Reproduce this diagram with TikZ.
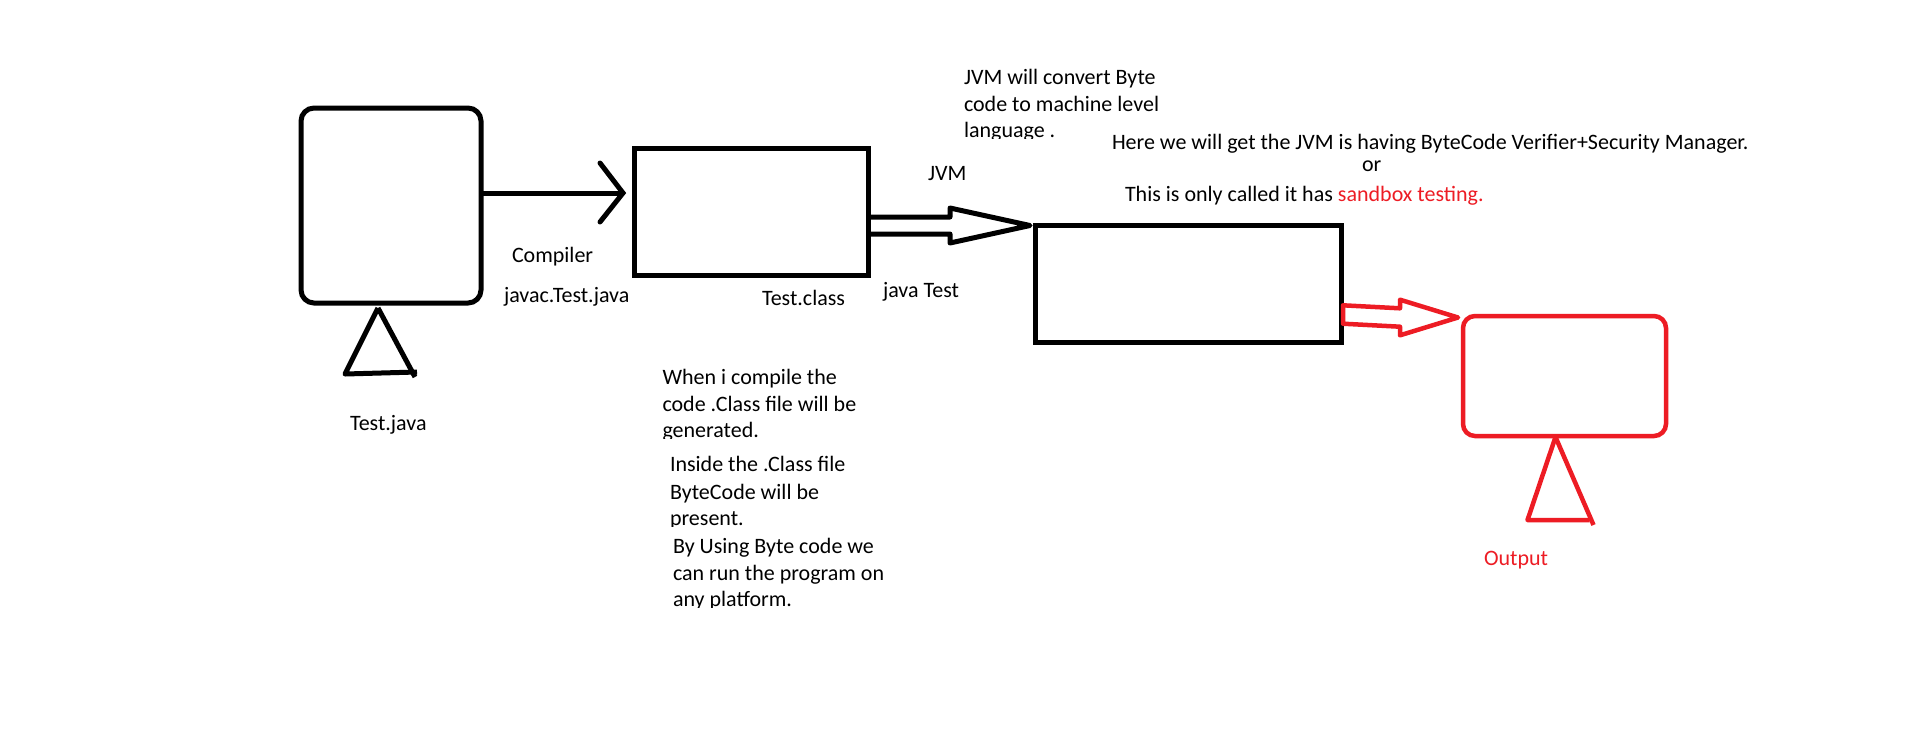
\documentclass[tikz,border=0pt]{standalone}
\usepackage{fontspec}
\setmainfont{Carlito}
\usetikzlibrary{calc}
\definecolor{pred}{RGB}{237,28,36}
\tikzset{
  blk/.style={line width=5pt, draw=black},
  rd/.style={line width=4.5pt, draw=pred},
  sqbox/.style={blk, rectangle, inner sep=0pt, outer sep=0pt},
  rbox/.style={blk, rectangle, rounded corners=13pt, inner sep=0pt, outer sep=0pt},
  lbl/.style={anchor=base west, inner sep=0pt, outer sep=0pt, font=\fontsize{22}{26.8}\selectfont},
}
\begin{document}
\begin{tikzpicture}[x=1pt,y=-1pt]
\fill[white] (0,0) rectangle (1914,740);
\useasboundingbox (0,0) rectangle (1914,740);

% boxes
\node[rbox, minimum width=180pt, minimum height=195pt] (src) at (391,205.5) {};
\node[sqbox, minimum width=234pt, minimum height=127pt] (cls) at (751,212.3) {};
\node[sqbox, minimum width=306pt, minimum height=117pt] (vm) at (1188,283.5) {};
\node[rbox, draw=pred, line width=4.5pt, rounded corners=12pt, minimum width=203pt, minimum height=120pt] (out) at (1564.5,376) {};

% compiler arrow
\draw[blk] ([yshift=12.5pt]src.east) -- ([yshift=19.3pt,xshift=-11pt]cls.west) coordinate (a1tip);
\draw[blk, line cap=round] ($(a1tip)+(-23,-30)$) -- (a1tip) -- ($(a1tip)+(-23,29)$);

% JVM hollow arrow
\coordinate (jt) at ([xshift=-5pt,yshift=-0.5pt]vm.north west);
\draw[blk, line join=round] ([yshift=-4.7pt]cls.east) -- ($(jt)+(-80,-8.5)$) -- ($(jt)+(-80,-17.5)$) -- (jt) -- ($(jt)+(-80,17.5)$) -- ($(jt)+(-80,8.5)$) -- ([yshift=-21.7pt]cls.east);

% red hollow arrow
\coordinate (rt) at ([xshift=-5pt,yshift=-1.5pt]out.north west);
\draw[rd, line join=round] ([xshift=2pt,yshift=-21.8pt]vm.east) -- ($(rt)+(-58,-9.2)$) -- ($(rt)+(-58,-17.8)$) -- (rt) -- ($(rt)+(-58,17.8)$) -- ($(rt)+(-58,9.2)$) -- ([xshift=2pt,yshift=-40.2pt]vm.east) -- cycle;

% stands
\draw[blk, line join=round] ([xshift=-13pt,yshift=-5pt]src.south) -- ++(-33,66) -- ++(72,-2);
\draw[blk] ([xshift=-13pt,yshift=-5pt]src.south) -- ++(37,69);
\draw[rd, line join=round] ([xshift=-9pt,yshift=-1pt]out.south) -- ++(-28,83) -- ++(62,0);
\draw[rd] ([xshift=-9pt,yshift=-1pt]out.south) -- ++(38,88);

% labels
\node[lbl] (tjava) at (350,430) {Test.java};
\node[lbl] (tcomp) at (512,262) {Compiler};
\node[lbl] (tjavac) at (504,302.7) {javac.Test.java};
\node[lbl] (tclass) at (762,305) {Test.class};
\node[lbl] (tjvm) at (928,180) {JVM};
\node[lbl] (tjt) at (883,297.7) {java Test};
\node[lbl, text=pred] (tout) at (1484,565.7) {Output};

% top notes
\node[lbl] (n1a) at (964,84.3) {JVM will convert Byte};
\node[lbl] (n1b) at (964,111.7) {code to machine level};
\begin{scope}
\clip (950,115) rectangle (1100,138.5);
\node[lbl] (n1c) at (964,137.3) {language .};
\end{scope}
\node[lbl] (h1) at (1112,149.3) {Here we will get the JVM is having ByteCode Verifier+Security Manager.};
\node[lbl] (h2) at (1362,171) {or};
\node[lbl] (h3) at (1125,201.7) {This is only called it has \textcolor{pred}{sandbox testing.}};

% bottom notes
\node[lbl] (p1a) at (662.5,384) {When i compile the};
\node[lbl] (p1b) at (662.5,411.7) {code .Class file will be};
\begin{scope}
\clip (650,415) rectangle (900,438.2);
\node[lbl] (p1c) at (662.5,437) {generated.};
\end{scope}
\node[lbl] (p2a) at (670,471.7) {Inside the .Class file};
\node[lbl] (p2b) at (670,499) {ByteCode will be};
\begin{scope}
\clip (650,503) rectangle (900,526.9);
\node[lbl] (p2c) at (670,525.7) {present.};
\end{scope}
\node[lbl] (p3a) at (673,553.3) {By Using Byte code we};
\node[lbl] (p3b) at (673,580) {can run the program on};
\begin{scope}
\clip (650,584) rectangle (950,607.2);
\node[lbl] (p3c) at (673,606) {any platform.};
\end{scope}
\end{tikzpicture}
\end{document}
